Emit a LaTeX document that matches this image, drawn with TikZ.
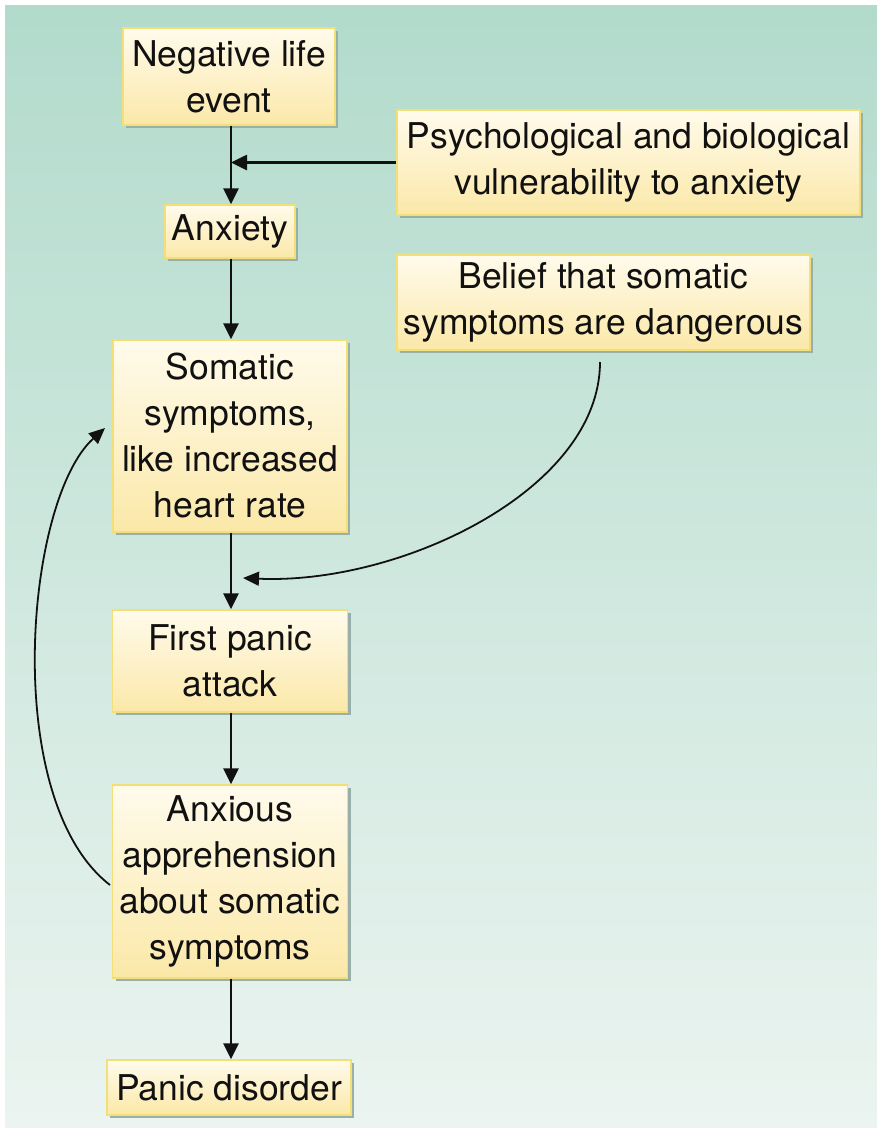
\documentclass[tikz,border=0pt]{standalone}
\usepackage{fontspec}
\setmainfont{TeX Gyre Heros}
\usetikzlibrary{arrows.meta,shadows,shadings}
\definecolor{bgtop}{HTML}{B2DBCC}
\definecolor{bgbot}{HTML}{EBF4F0}
\definecolor{boxtop}{HTML}{FFFBEC}
\definecolor{boxbot}{HTML}{FBE8A8}
\definecolor{boxline}{HTML}{F2DF78}
\definecolor{shadowc}{HTML}{98AFAA}
\definecolor{ink}{HTML}{111111}
\tikzset{
  box/.style={rectangle, inner sep=0pt, draw=boxline, line width=1.4pt,
    top color=boxtop, bottom color=boxbot, align=center,
    font=\fontsize{35.5}{46}\selectfont, text=ink,
    general shadow={fill=shadowc, shadow xshift=3pt, shadow yshift=-3pt}},
  arr/.style={draw=ink, line width=2.6pt, -{Triangle[length=16pt,width=15pt]}},
  carr/.style={draw=ink, line width=1.8pt, -{Triangle[length=16pt,width=14pt]}}
}
\begin{document}
\begin{tikzpicture}[x=1pt,y=-1pt]
\useasboundingbox (0,0) rectangle (877,1135);
\fill[white] (0,0) rectangle (877,1135);
\shade[top color=bgtop, bottom color=bgbot] (5,5) rectangle (877,1127);

\node[box, minimum width=212pt, minimum height=97pt] (neg) at (229,76.5) {Negative life\\event};
\node[box, minimum width=463pt, minimum height=105pt] (psych) at (628.5,162.5) {Psychological and biological\\vulnerability to anxiety};
\node[box, minimum width=130pt, minimum height=53pt] (anx) at (230,231.5) {Anxiety};
\node[box, minimum width=413pt, minimum height=95pt] (belief) at (603.5,302.5) {Belief that somatic\\symptoms are dangerous};
\node[box, minimum width=234pt, minimum height=192pt] (som) at (230,436) {Somatic\\symptoms,\\like increased\\heart rate};
\node[box, minimum width=235pt, minimum height=102pt] (first) at (230,661) {First panic\\attack};
\node[box, minimum width=235pt, minimum height=193pt] (anxious) at (230,881.5) {Anxious\\apprehension\\about somatic\\symptoms};
\node[box, minimum width=244pt, minimum height=55pt] (pd) at (229,1087.5) {Panic disorder};

\coordinate (vx) at (231,0);
\coordinate (bstart) at (600,362);
\coordinate (bend) at (243,578);
\coordinate (fstart) at (110,885);
\coordinate (fend) at (105,428);

\draw[arr] (neg.south -| vx) -- (anx.north -| vx);
\draw[arr] (psych.west) -- (psych.west -| vx);
\draw[arr] (anx.south -| vx) -- (som.north -| vx);
\draw[arr] (som.south -| vx) -- (first.north -| vx);
\draw[arr] (first.south -| vx) -- (anxious.north -| vx);
\draw[arr] (anxious.south -| vx) -- (pd.north -| vx);

\draw[carr] (bstart) .. controls (600,490) and (400,585) .. (bend);
\draw[carr] (fstart) .. controls (0,800) and (25,500) .. (fend);
\end{tikzpicture}
\end{document}
